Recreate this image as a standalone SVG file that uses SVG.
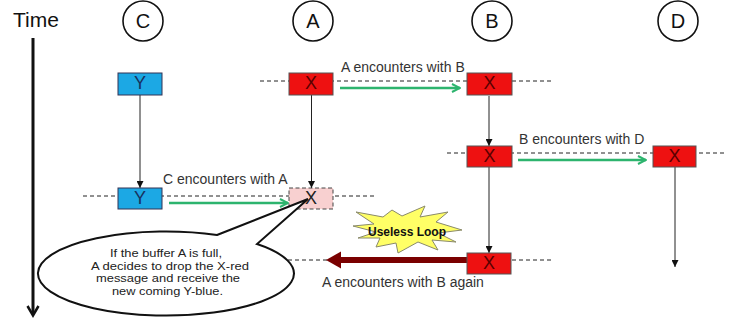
<svg xmlns="http://www.w3.org/2000/svg" width="730" height="322" viewBox="0 0 730 322">
  <style>
    text { font-family: "Liberation Sans", Arial, sans-serif; }
    .head { font-size: 20px; fill: #111; text-anchor: middle; }
    .circ { fill: #fff; stroke: #111; stroke-width: 1.6; }
    .lbl { font-size: 14px; fill: #333; }
    .red { fill: #EE1111; stroke: #555; stroke-width: 1; }
    .blue { fill: #1CA8E4; stroke: #335; stroke-width: 1; }
    .pink { fill: #F8D0D0; stroke: #444; stroke-width: 1; stroke-dasharray: 4 2.5; }
    .mx { font-size: 18px; fill: #5a0000; text-anchor: middle; }
    .my { font-size: 18px; fill: #17325e; text-anchor: middle; }
    .dash { stroke: #222; stroke-width: 1; stroke-dasharray: 4 3; fill: none; }
    .life { stroke: #222; stroke-width: 1; fill: none; marker-end: url(#tip); }
    .green { stroke: #2DB46E; stroke-width: 2.5; fill: none; marker-end: url(#openG); }
    .note { font-size: 11.5px; fill: #222; text-anchor: middle; }
  </style>
  <defs>
    <marker id="tip" viewBox="0 0 10 10" refX="10" refY="5" markerWidth="7" markerHeight="7" markerUnits="userSpaceOnUse" orient="auto">
      <path d="M0,0 L10,5 L0,10 Z" fill="#111"/>
    </marker>
    <marker id="openG" viewBox="0 0 10 10" refX="9" refY="5" markerWidth="4" markerHeight="4" orient="auto">
      <path d="M1,1 L9,5 L1,9" fill="none" stroke="#2DB46E" stroke-width="2"/>
    </marker>
  </defs>

  <!-- time axis -->
  <g id="time">
    <text x="13" y="27" font-size="21" fill="#111">Time</text>
    <line x1="33" y1="38" x2="33" y2="314" stroke="#111" stroke-width="3"/>
    <path d="M27.5,306 L33,315.5 L38.5,306" fill="none" stroke="#111" stroke-width="2.5"/>
  </g>

  <!-- node headers -->
  <g id="node-C"><circle class="circ" cx="143" cy="21" r="20"/><text class="head" x="143" y="28">C</text></g>
  <g id="node-A"><circle class="circ" cx="313" cy="21" r="20"/><text class="head" x="313" y="28">A</text></g>
  <g id="node-B"><circle class="circ" cx="492" cy="21" r="20"/><text class="head" x="492" y="28">B</text></g>
  <g id="node-D"><circle class="circ" cx="678" cy="21" r="20"/><text class="head" x="678" y="28">D</text></g>

  <!-- encounter lines, lifelines and transfers -->
  <g id="connectors">
    <line class="dash" x1="260" y1="81" x2="553" y2="81"/>
    <line class="dash" x1="83" y1="196" x2="375" y2="196"/>
    <line class="dash" x1="447" y1="153" x2="727" y2="153"/>
    <line class="dash" x1="260" y1="260" x2="552" y2="260"/>

    <line class="life" x1="140" y1="95" x2="140" y2="188"/>
    <line class="life" x1="311.5" y1="95" x2="311.5" y2="188"/>
    <line class="life" x1="489" y1="96" x2="489" y2="146"/>
    <line class="life" x1="489" y1="167" x2="489" y2="253"/>
    <line class="life" x1="675" y1="167" x2="675" y2="267"/>

    <line class="green" x1="340" y1="88" x2="460" y2="88"/>
    <line class="green" x1="169" y1="203" x2="288" y2="203"/>
    <line class="green" x1="518" y1="160" x2="646" y2="160"/>

    <line x1="467" y1="260" x2="338" y2="260" stroke="#7A0000" stroke-width="6"/>
    <path d="M326,260 L341,251.5 L341,268.5 Z" fill="#7A0000"/>
  </g>

  <!-- encounter labels -->
  <g id="labels">
    <text class="lbl" x="341" y="72">A encounters with B</text>
    <text class="lbl" x="163" y="184">C encounters with A</text>
    <text class="lbl" x="519" y="144">B encounters with D</text>
    <text class="lbl" x="322" y="287">A encounters with B again</text>
  </g>

  <!-- message buffers -->
  <g id="msg-C1"><rect class="blue" x="118" y="73" width="44" height="22"/><text class="my" x="140" y="89">Y</text></g>
  <g id="msg-A1"><rect class="red" x="289" y="73" width="44" height="22"/><text class="mx" x="311" y="89">X</text></g>
  <g id="msg-B1"><rect class="red" x="467" y="73" width="45" height="22"/><text class="mx" x="489.5" y="89">X</text></g>
  <g id="msg-B2"><rect class="red" x="467" y="146" width="45" height="21"/><text class="mx" x="489.5" y="162">X</text></g>
  <g id="msg-D1"><rect class="red" x="653" y="146" width="43" height="21"/><text class="mx" x="674.5" y="162">X</text></g>
  <g id="msg-C2"><rect class="blue" x="118" y="188" width="44" height="21"/><text class="my" x="140" y="204">Y</text></g>
  <g id="msg-A2"><rect class="pink" x="289" y="188" width="44" height="21"/><text class="mx" x="311" y="204" style="fill:#222">X</text></g>
  <g id="msg-B3"><rect class="red" x="467" y="253" width="44" height="21"/><text class="mx" x="489" y="269">X</text></g>

  <!-- loop burst -->
  <g id="useless-loop">
    <polygon points="353,226 374,224 356,212 383,217 392,210 402,216 425,206 420,217 448,212 436,222 462,230 438,233 456,242 432,240 438,250 418,242 398,253 396,243 376,247 380,238 358,238 376,232" fill="#FFFF66" stroke="#8a8a6a" stroke-width="1"/>
    <text x="407" y="236" font-size="12" font-weight="bold" fill="#111" text-anchor="middle">Useless Loop</text>
  </g>

  <!-- callout -->
  <g id="callout">
    <path d="M217,235 L308,199 L257,244 A128,42 0 1 1 217,235 Z" fill="#fff" stroke="#111" stroke-width="2" stroke-linejoin="miter"/>
    <text class="note" x="166" y="257" textLength="112" lengthAdjust="spacingAndGlyphs">If the buffer A is full,</text>
    <text class="note" x="170" y="269.7" textLength="158" lengthAdjust="spacingAndGlyphs">A decides to drop the X-red</text>
    <text class="note" x="168" y="282.4" textLength="144" lengthAdjust="spacingAndGlyphs">message and receive the</text>
    <text class="note" x="167.5" y="295" textLength="111" lengthAdjust="spacingAndGlyphs">new coming Y-blue.</text>
  </g>
</svg>
